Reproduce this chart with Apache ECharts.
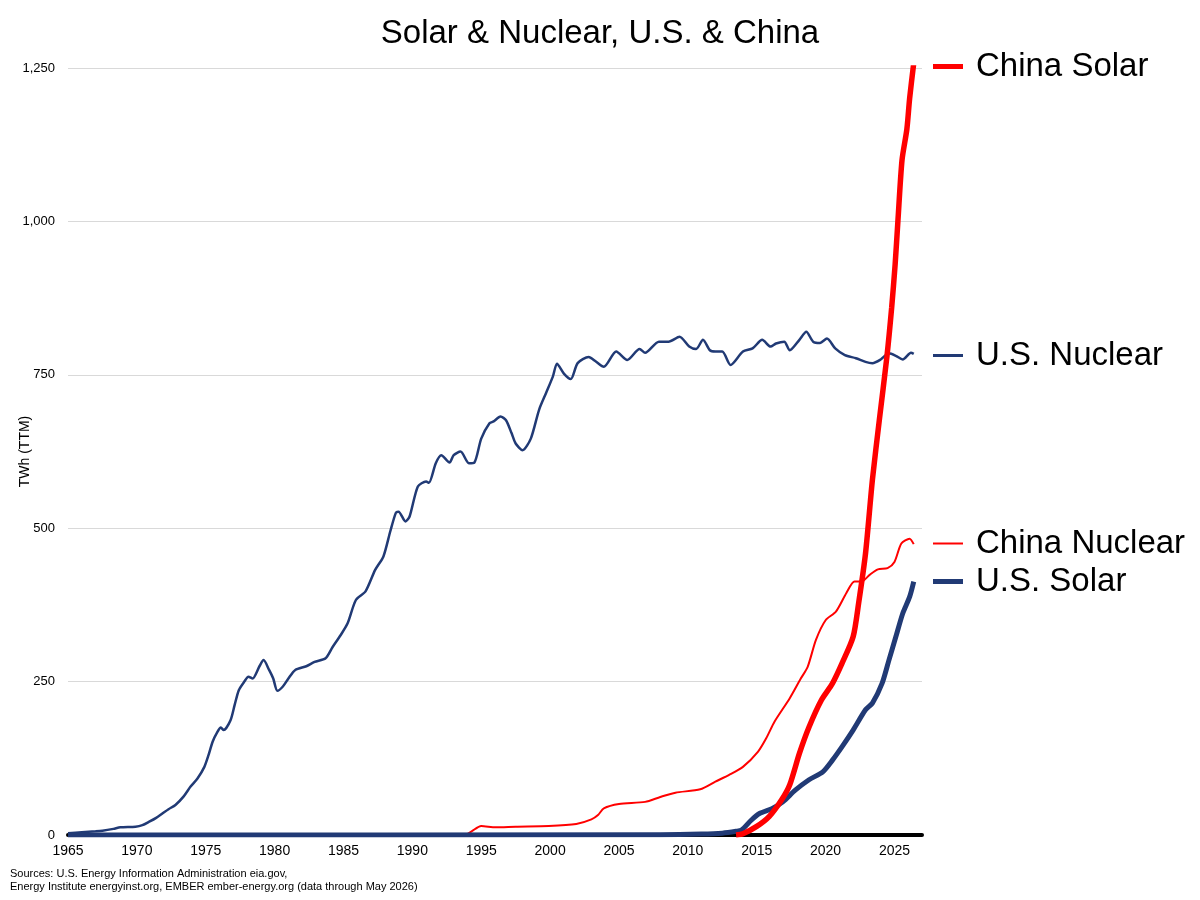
<!DOCTYPE html>
<html>
<head>
<meta charset="utf-8">
<script src="https://cdn.jsdelivr.net/npm/echarts@6/dist/echarts.min.js"></script>
<style>
  html, body { margin: 0; padding: 0; background: #fff; }
  #chart { width: 1200px; height: 900px; }
</style>
</head>
<body>
<div id="chart"></div>
<script>
// 数据：[年份, TWh (TTM)]
const usNuclear = [
  [1965.0, 3], [1966.0, 4.5], [1967.0, 6], [1967.5, 7], [1968.3, 10], [1968.8, 12.5],
  [1969.9, 13.5], [1970.4, 16], [1970.9, 21.7], [1971.4, 28], [1971.85, 35], [1972.3, 42],
  [1972.8, 49], [1973.4, 63], [1973.9, 79], [1974.4, 92], [1974.9, 111], [1975.2, 130],
  [1975.5, 152], [1975.8, 166], [1976.1, 175], [1976.3, 171], [1976.8, 187], [1977.1, 212],
  [1977.4, 236], [1977.8, 250], [1978.1, 258], [1978.4, 255], [1978.9, 275], [1979.2, 285],
  [1979.6, 269], [1979.9, 255], [1980.2, 235], [1980.6, 242], [1981.0, 255], [1981.5, 269],
  [1982.3, 275], [1982.9, 282], [1983.7, 288], [1984.2, 306], [1984.8, 326], [1985.3, 345],
  [1985.9, 383], [1986.6, 397], [1987.3, 432], [1987.9, 454], [1988.4, 495], [1988.8, 525],
  [1989.0, 527], [1989.5, 511], [1989.8, 519], [1990.4, 568], [1991.0, 576], [1991.2, 574],
  [1991.7, 606], [1992.1, 619], [1992.7, 607], [1993.0, 619], [1993.5, 625], [1994.1, 606],
  [1994.5, 607], [1995.0, 646], [1995.6, 671], [1995.9, 674], [1996.4, 682], [1996.8, 676],
  [1997.2, 655], [1997.5, 638], [1998.0, 627], [1998.6, 646], [1999.2, 693], [1999.7, 720],
  [2000.2, 747], [2000.5, 768], [2001.0, 752], [2001.5, 743], [2002.0, 769], [2002.8, 779],
  [2003.3, 772], [2003.9, 763], [2004.8, 788], [2005.6, 774], [2006.5, 792], [2006.9, 786],
  [2007.9, 804], [2008.6, 804], [2009.4, 812], [2010.1, 796], [2010.6, 792], [2011.1, 807],
  [2011.6, 790], [2012.0, 788], [2012.5, 788], [2013.1, 766], [2014.0, 788], [2014.7, 793],
  [2015.4, 807], [2016.0, 796], [2016.4, 801], [2017.0, 804], [2017.4, 790], [2018.1, 807],
  [2018.6, 820], [2019.1, 804], [2019.6, 802], [2020.1, 809], [2020.7, 793], [2021.4, 782],
  [2022.2, 777], [2022.9, 771], [2023.4, 769], [2024.0, 775], [2024.6, 785], [2025.1, 781],
  [2025.6, 775], [2026.2, 786], [2026.4, 784]
];

const chinaNuclear = [
  [1985.0, 0], [1993.8, 0], [1994.3, 6], [1995.0, 14.7], [1996.05, 12.5], [1997.5, 13.6],
  [1999.9, 14.7], [2001.9, 18], [2003.0, 25.5], [2003.5, 33], [2003.9, 43.5], [2005.0, 50.5],
  [2006.9, 54], [2008.0, 62], [2009.1, 69], [2010.9, 74.5], [2012.0, 87], [2013.0, 98],
  [2014.0, 111], [2015.1, 136], [2015.7, 158], [2016.3, 185], [2017.4, 223], [2018.2, 255],
  [2018.7, 274], [2019.3, 318], [2020.0, 350], [2020.75, 364], [2021.5, 394], [2022.1, 413],
  [2022.6, 413], [2023.2, 424], [2023.8, 433], [2024.5, 435], [2025.0, 445], [2025.5, 475],
  [2026.1, 483], [2026.4, 474]
];

const usSolar = [
  [1965.0, 0], [2008.0, 0.5], [2011.0, 1.5], [2012.5, 3], [2013.5, 6], [2013.9, 8],
  [2014.6, 24], [2015.2, 35], [2016.1, 43], [2016.9, 54], [2017.8, 73], [2018.8, 90],
  [2019.8, 103], [2020.5, 122], [2021.2, 144], [2022.0, 171], [2022.9, 204], [2023.4, 215],
  [2024.1, 247], [2024.6, 285], [2025.1, 323], [2025.6, 361], [2026.1, 388], [2026.4, 413]
];

const chinaSolar = [
  [2013.5, 0], [2014.0, 2], [2015.0, 14], [2015.9, 30], [2016.8, 57], [2017.4, 82],
  [2018.1, 133], [2018.8, 176], [2019.7, 220], [2020.5, 247], [2021.2, 280], [2022.0, 323],
  [2022.4, 378], [2022.9, 459], [2023.4, 579], [2023.9, 676], [2024.45, 779], [2024.8, 860],
  [2025.05, 930], [2025.25, 1000], [2025.55, 1100], [2025.9, 1150], [2026.1, 1200], [2026.4, 1258]
];

const yTicks = [0, 250, 500, 750, 1000, 1250];
const xTicks = [1965, 1970, 1975, 1980, 1985, 1990, 1995, 2000, 2005, 2010, 2015, 2020, 2025];

const RED = "#ff0000";
const NAVY = "#213a75";
const FONT = "'Liberation Sans', Arial, sans-serif";

const chart = echarts.init(document.getElementById("chart"));

// 每个图例单独放在对应曲线末端旁边
function legendItem(name, top, thick) {
  return {
    data: [name],
    left: 933,
    top: top,
    padding: 0,
    icon: "rect",
    itemWidth: 30,
    itemHeight: thick,
    selectedMode: false,
    textStyle: { fontSize: 33, color: "#000", fontFamily: FONT, padding: [0, 0, 0, 8] },
  };
}

chart.setOption({
  animation: false,
  backgroundColor: "#fff",
  title: {
    text: "Solar & Nuclear, U.S. & China",
    left: "center",
    top: 17,
    padding: 0,
    textStyle: { fontSize: 33, fontWeight: "normal", color: "#000", fontFamily: FONT },
  },
  legend: [
    legendItem("China Solar", 50, 5),
    legendItem("U.S. Nuclear", 339, 3),
    legendItem("China Nuclear", 527, 2),
    legendItem("U.S. Solar", 565, 5),
  ],
  grid: { left: 68, right: 278, top: 68, bottom: 65, outerBoundsMode: "none" },
  xAxis: {
    type: "value",
    min: xTicks[0],
    max: 2027,
    interval: 5,
    axisLine: { show: true, lineStyle: { color: "#000", width: 4 } },
    axisTick: { show: false },
    splitLine: { show: false },
    axisLabel: {
      showMaxLabel: false,
      margin: 9,
      fontSize: 14,
      color: "#000",
      fontFamily: FONT,
      formatter: (v) => (xTicks.includes(v) ? String(v) : ""),
    },
  },
  yAxis: {
    type: "value",
    min: yTicks[0],
    max: yTicks[yTicks.length - 1],
    interval: 250,
    name: "TWh (TTM)",
    nameLocation: "middle",
    nameGap: 36,
    nameMoveOverlap: false,
    nameTextStyle: { fontSize: 14, color: "#000", fontFamily: FONT },
    axisLine: { show: false },
    axisTick: { show: false },
    splitLine: { lineStyle: { color: "#d9d9d9", width: 1 } },
    axisLabel: {
      margin: 13,
      fontSize: 13,
      color: "#000",
      fontFamily: FONT,
      formatter: (v) => v.toLocaleString("en-US"),
    },
  },
  series: [
    {
      name: "U.S. Nuclear",
      type: "line",
      data: usNuclear,
      symbol: "none",
      smooth: 0.25,
      color: NAVY,
      lineStyle: { color: NAVY, width: 2.5 },
    },
    {
      name: "China Nuclear",
      type: "line",
      data: chinaNuclear,
      symbol: "none",
      smooth: 0.25,
      color: RED,
      lineStyle: { color: RED, width: 2 },
    },
    {
      name: "U.S. Solar",
      type: "line",
      data: usSolar,
      symbol: "none",
      smooth: 0.25,
      color: NAVY,
      lineStyle: { color: NAVY, width: 5 },
    },
    {
      name: "China Solar",
      type: "line",
      data: chinaSolar,
      symbol: "none",
      smooth: 0.25,
      color: RED,
      lineStyle: { color: RED, width: 5.5 },
    },
  ],
  graphic: [
    {
      type: "text",
      left: 10,
      top: 867,
      style: {
        text: "Sources: U.S. Energy Information Administration eia.gov,\nEnergy Institute energyinst.org, EMBER ember-energy.org (data through May 2026)",
        font: "11px " + FONT,
        lineHeight: 13,
        fill: "#000",
      },
    },
  ],
});

window.addEventListener("resize", () => chart.resize());
</script>
</body>
</html>
